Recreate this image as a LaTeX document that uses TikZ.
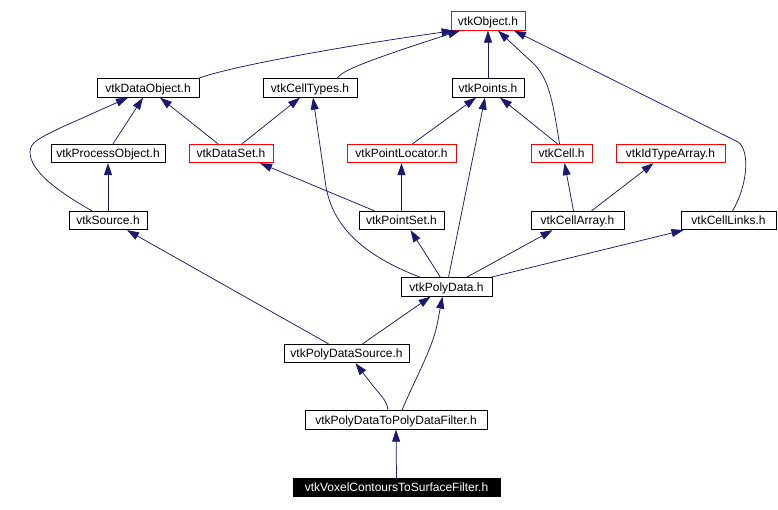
\documentclass[tikz,border=0pt]{standalone}
\usepackage{fontspec}
\setmainfont{Liberation Sans}
\usepackage{tikz}
\usetikzlibrary{arrows.meta,calc}
\definecolor{edgeblue}{HTML}{191970}

\begin{document}
\begin{tikzpicture}[x=1pt,y=-1pt,
    hdr/.style={draw=black,line width=0.8pt,fill=white,inner sep=2pt,minimum height=18.5pt,
      text height=9pt,text depth=1pt,font=\fontsize{12}{14}\selectfont},
    hdrred/.style={hdr,draw=red},
    hdrcur/.style={hdr,fill=black,text=white},
    dep/.style={draw=edgeblue,line width=0.75pt,-{Triangle[length=12pt,width=8pt]}}]
        \useasboundingbox (0,0) rectangle (778,509);
        %Nodes
        \node[hdrred,minimum width=74pt] (obj) at (488,21) {vtkObject.h};
        \node[hdr,minimum width=102pt] (dataobj) at (148,88) {vtkDataObject.h};
        \node[hdr,minimum width=94pt] (celltypes) at (310,88) {vtkCellTypes.h};
        \node[hdr,minimum width=72pt] (points) at (488,88) {vtkPoints.h};
        \node[hdr,minimum width=114pt] (procobj) at (108,153.5) {vtkProcessObject.h};
        \node[hdrred,minimum width=84pt] (dataset) at (231,153.5) {vtkDataSet.h};
        \node[hdrred,minimum width=109pt] (ptloc) at (401.5,153.5) {vtkPointLocator.h};
        \node[hdrred,minimum width=61pt] (cell) at (561.5,153.5) {vtkCell.h};
        \node[hdrred,minimum width=109pt] (idarr) at (670.5,153.5) {vtkIdTypeArray.h};
        \node[hdr,minimum width=78pt] (source) at (108,220.5) {vtkSource.h};
        \node[hdr,minimum width=85pt] (ptset) at (401.5,220.5) {vtkPointSet.h};
        \node[hdr,minimum width=93pt] (cellarr) at (577.5,220.5) {vtkCellArray.h};
        \node[hdr,minimum width=95pt] (celllinks) at (728.5,220.5) {vtkCellLinks.h};
        \node[hdr,minimum width=91pt] (polydata) at (446.5,287) {vtkPolyData.h};
        \node[hdr,minimum width=125pt] (pdsource) at (346.5,353.5) {vtkPolyDataSource.h};
        \node[hdr,minimum width=182pt] (pdfilter) at (396,420) {vtkPolyDataToPolyDataFilter.h};
        \node[hdrcur,minimum width=207pt] (voxel) at (396.5,487.5) {vtkVoxelContoursToSurfaceFilter.h};
        %Draw lines to vtkObject
        \draw[dep] ([xshift=-1]dataobj.north east) .. controls (225,68) and (330,48) .. ([xshift=3]obj.south west);
        \draw[dep] ([xshift=27]celltypes.north) .. controls (342,72) and (350,66) .. ([xshift=-28]obj.south);
        \draw[dep] (points.north) -- (obj.south);
        \draw[dep] ([xshift=-2]cell.north) .. controls (552,95) and (548,80) .. (535,65) -- ([xshift=10]obj.south);
        \draw[dep] ([xshift=4]celllinks.north) .. controls (748,185) and (750,150) .. (738,142) -- ([xshift=26]obj.south);
        %Draw lines to second row
        \draw[dep] ([xshift=5]procobj.north) -- ([xshift=-5]dataobj.south);
        \draw[dep] ([xshift=-13]dataset.north) -- ([xshift=12]dataobj.south);
        \draw[dep] ([xshift=11]dataset.north) -- ([xshift=-10]celltypes.south);
        \draw[dep] ([xshift=-16]source.north) .. controls (55,190) and (30,170) .. (30,152)
            .. controls (30,142) and (40,138) .. (60,128) -- ([xshift=-20]dataobj.south);
        \draw[dep] ([xshift=11]ptloc.north) -- ([xshift=-12]points.south);
        \draw[dep] ([xshift=-4]cell.north) -- ([xshift=12]points.south);
        \draw[dep] ([xshift=-26]polydata.north) .. controls (362,255) and (330,225) .. (325,180) -- ([xshift=3]celltypes.south);
        \draw[dep] ([xshift=2]polydata.north) -- ([xshift=-3]points.south);
        %Draw lines to third row
        \draw[dep] (source.north) -- (procobj.south);
        \draw[dep] ([xshift=-27]ptset.north) -- ([xshift=29]dataset.south);
        \draw[dep] (ptset.north) -- (ptloc.south);
        \draw[dep] ([xshift=-4]cellarr.north) -- ([xshift=3]cell.south);
        \draw[dep] ([xshift=14]cellarr.north) -- ([xshift=-17]idarr.south);
        %Draw lines to fourth row
        \draw[dep] ([xshift=-6]polydata.north) -- ([xshift=9]ptset.south);
        \draw[dep] ([xshift=20]polydata.north) -- ([xshift=-25]cellarr.south);
        \draw[dep] ([xshift=-2]polydata.north east) -- ([xshift=-45]celllinks.south);
        \draw[dep] ([xshift=-18]pdsource.north) -- ([xshift=19]source.south);
        \draw[dep] ([xshift=16]pdsource.north) -- ([xshift=-16]polydata.south);
        \draw[dep] ([xshift=6]pdfilter.north) .. controls (412,385) and (432,350) .. (437,325) -- ([xshift=-4]polydata.south);
        \draw[dep] ([xshift=-8]pdfilter.north) .. controls (387,400) and (380,395) .. (370,382) -- ([xshift=9]pdsource.south);
        \draw[dep] (voxel.north) -- (pdfilter.south);
      \end{tikzpicture}
\end{document}
